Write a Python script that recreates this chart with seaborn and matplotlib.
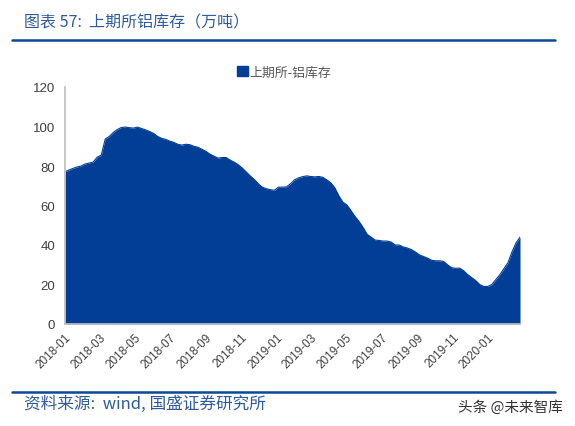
import pandas as pd
import matplotlib
matplotlib.use("Agg")
import matplotlib.pyplot as plt
import matplotlib.dates as mdates
from matplotlib.lines import Line2D
from matplotlib.patches import Patch
import seaborn as sns

start_date = "2018-01-01"
end_date = "2020-02-25"
series_name = "上期所-铝库存"
title_text = "图表 57:  上期所铝库存（万吨）"
source_text = "资料来源:  wind, 国盛证券研究所"
watermark_text = "头条 @未来智库"

# roughly weekly stock
stock = [
    77, 78, 78.8, 79.5, 80, 81, 81.5, 82, 84.5, 85.5,
    93.7, 95, 97, 98.5, 99.5, 99.7, 99.4, 99.2, 99.7, 99,
    98.3, 97.5, 96.5, 95, 94, 93.5, 92.6, 92, 91, 90.6,
    91, 90.8, 90, 89.5, 88.5, 87.4, 86, 85, 84, 84.3,
    84.3, 83, 82, 80.7, 79, 77, 75, 73.2, 71, 69.3,
    68.5, 68, 67.7, 69.3, 69.3, 69.4, 71, 73, 74, 74.6,
    75, 74.7, 74.5, 74.7, 74.3, 73, 71.5, 69, 65, 61.7,
    60.3, 57.5, 54.5, 52, 49, 45.5, 44, 42.5, 42.3, 42,
    42, 41.5, 40, 40, 39, 38.5, 37.7, 36.5, 35, 34.2,
    33.4, 32.3, 32, 32, 31.7, 30, 28.5, 28.2, 28.3, 27,
    25, 23.5, 22, 20, 19, 19, 20, 22.5, 25, 28,
    31, 36.5, 41, 44,
]
y_ticks = [0, 20, 40, 60, 80, 100, 120]
x_tick_dates = pd.date_range("2018-01-01", "2020-01-01", freq="2MS")

blue = "#023E96"
rule_blue = "#0B4A94"
text_blue = "#2F5B9C"
tick_grey = "#404040"
axis_grey = "#BFBFBF"

sns.set_theme(style="white")
plt.rcParams["font.family"] = ["Noto Sans CJK SC", "DejaVu Sans"]

df = pd.DataFrame({
    "date": pd.date_range(start_date, end_date, periods=len(stock)),
    "stock": stock,
})

W, H = 575, 427
fig = plt.figure(figsize=(W / 100, H / 100), dpi=100)
ax = fig.add_axes([65 / W, 1 - 325 / H, 455 / W, 237 / H])

sns.lineplot(data=df, x="date", y="stock", color=blue, linewidth=0.8, ax=ax)
ax.fill_between(df["date"], df["stock"], 0, color=blue, linewidth=0)

ax.set_xlim(df["date"].iloc[0], df["date"].iloc[-1])
ax.set_ylim(0, 120)
ax.set_xlabel("")
ax.set_ylabel("")
ax.set_yticks(y_ticks)
ax.set_xticks(x_tick_dates)
ax.xaxis.set_major_formatter(mdates.DateFormatter("%Y-%m"))
ax.tick_params(axis="y", labelsize=9.5, colors=tick_grey, length=4, width=0.8,
               color=axis_grey, pad=7, direction="in")
ax.tick_params(axis="x", labelsize=8.5, colors=tick_grey, length=3, width=0.8,
               color="#1F3F77", pad=5, direction="in")
plt.setp(ax.get_xticklabels(), rotation=45, ha="right", rotation_mode="anchor")
for lab in ax.get_xticklabels() + ax.get_yticklabels():
    lab.set_family(["Liberation Sans", "DejaVu Sans"])

sns.despine(ax=ax)
ax.spines["left"].set_color(axis_grey)
ax.spines["bottom"].set_color(axis_grey)

fig.legend(
    handles=[Patch(color=blue, label=series_name)],
    loc="center", bbox_to_anchor=(284 / W, 1 - 73 / H), frameon=False,
    fontsize=9.3, handlelength=0.85, handleheight=0.9, handletextpad=0.15,
    labelcolor="#595959",
)

# header and footer rules
fig.add_artist(Line2D([12 / W, 555 / W], [1 - 41 / H] * 2, color=rule_blue, lw=1.8))
fig.add_artist(Line2D([12 / W, 555 / W], [1 - 393 / H] * 2, color=rule_blue, lw=1.8))

fig.text(24 / W, 1 - 23 / H, title_text, color=text_blue, fontsize=11.5, va="center")
fig.text(24 / W, 1 - 404 / H, source_text, color=text_blue, fontsize=12, va="center")
fig.text(458 / W, 1 - 408 / H, watermark_text, color="#333333", fontsize=10.5, va="center")

fig.savefig("out.png", dpi=100)
